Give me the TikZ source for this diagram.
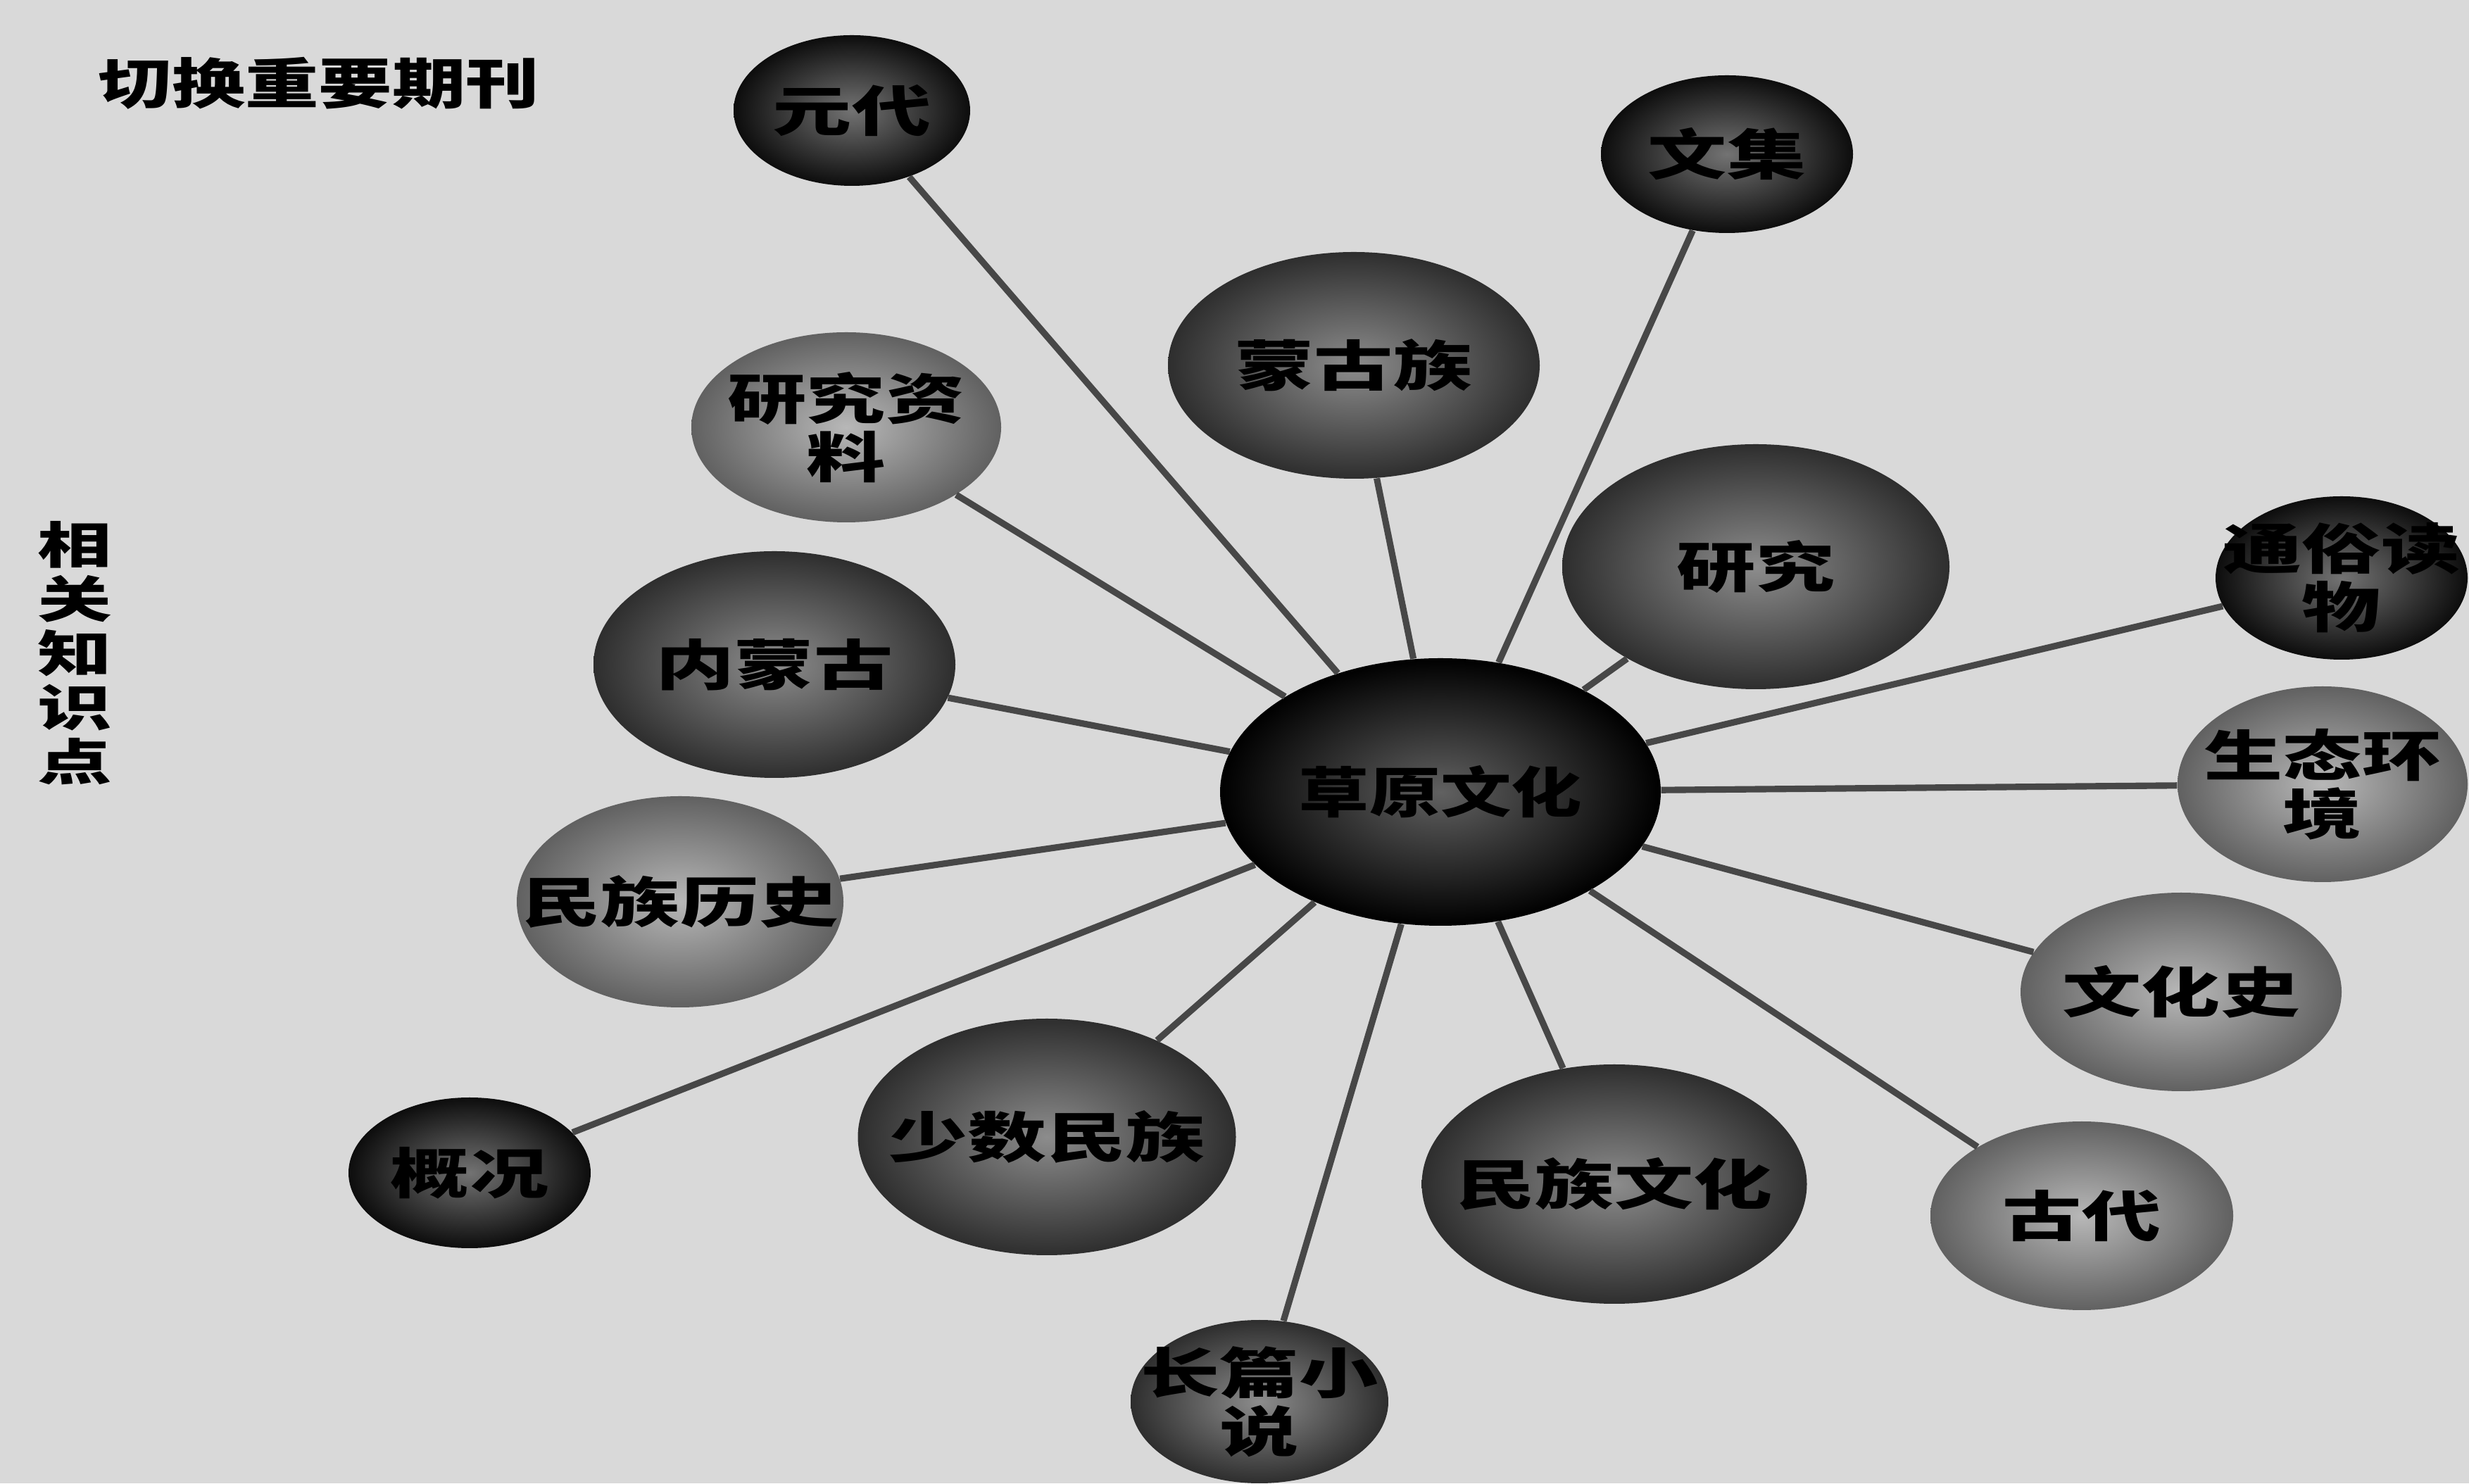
\documentclass[tikz,border=0pt]{standalone}
\usepackage{fontspec}
\setmainfont{Noto Sans CJK SC}
\usepackage{tikz}
\usetikzlibrary{shapes.geometric}

% glyphs in the figure are stretched sideways
\newcommand{\wide}[1]{\scalebox{1.45}[1]{#1}}

\begin{document}
\begin{tikzpicture}[
    ball/.style={ellipse, inner xsep=-0.8cm, inner ysep=0pt, align=center, text=black,
                 font=\bfseries\fontsize{22}{23.6}\selectfont},
    darkball/.style={ball, shade, inner color=black!55, outer color=black!95},
    midball/.style={ball, shade, inner color=black!45, outer color=black!82},
    lightball/.style={ball, shade, inner color=black!28, outer color=black!62},
    spoke/.style={line width=2.6pt, draw=black!72}
]
    \useasboundingbox (0,0) rectangle (35.07,21.07);
    \fill[black!15] (0,0) rectangle (35.07,21.07);

    % side labels
    \node[font=\bfseries\fontsize{22}{22}\selectfont] (kanlabel) at (4.53,19.89) {\scalebox{1.35}[1]{切换重要期刊}};
    \node[align=center, font=\bfseries\fontsize{20}{21.9}\selectfont] (zhishi) at (1.06,11.79)
        {\scalebox{1.5}[1]{相}\\\scalebox{1.5}[1]{关}\\\scalebox{1.5}[1]{知}\\\scalebox{1.5}[1]{识}\\\scalebox{1.5}[1]{点}};

    % hub
    \node[ball, shade, inner color=black!62, outer color=black, minimum width=6.26cm, minimum height=3.80cm]
        (caoyuan) at (20.46,9.82) {\scalebox{1.3}[1]{草原文化}};

    % outer nodes
    \node[darkball, minimum width=3.36cm, minimum height=2.14cm] (yuandai) at (12.10,19.50) {\wide{元代}};
    \node[darkball, minimum width=3.58cm, minimum height=2.24cm] (wenji) at (24.53,18.88) {\wide{文集}};
    \node[midball, minimum width=5.28cm, minimum height=3.22cm] (menggu) at (19.23,15.88) {\wide{蒙古族}};
    \node[lightball, minimum width=4.40cm, minimum height=2.70cm] (ziliao) at (12.02,15.00) {\wide{研究资}\\\wide{料}};
    \node[midball, minimum width=5.50cm, minimum height=3.48cm] (yanjiu) at (24.94,13.02) {\wide{研究}};
    \node[darkball, minimum width=3.58cm, minimum height=2.32cm] (tongsu) at (33.26,12.86) {\wide{通俗读}\\\wide{物}};
    \node[midball, minimum width=5.14cm, minimum height=3.22cm] (neimeng) at (11.00,11.63) {\wide{内蒙古}};
    \node[lightball, minimum width=4.12cm, minimum height=2.78cm] (shengtai) at (32.99,9.93) {\wide{生态环}\\\wide{境}};
    \node[lightball, minimum width=4.64cm, minimum height=3.00cm] (lishi) at (9.66,8.26) {\wide{民族历史}};
    \node[lightball, minimum width=4.56cm, minimum height=2.82cm] (wenhuashi) at (30.98,6.98) {\wide{文化史}};
    \node[darkball, minimum width=3.44cm, minimum height=2.14cm] (gaikuang) at (6.67,4.41) {\wide{概况}};
    \node[midball, minimum width=5.37cm, minimum height=3.36cm] (shaoshu) at (14.87,4.92) {\wide{少数民族}};
    \node[midball, minimum width=5.47cm, minimum height=3.40cm] (minzu) at (22.93,4.25) {\wide{民族文化}};
    \node[lightball, minimum width=4.30cm, minimum height=2.68cm] (gudai) at (29.57,3.80) {\wide{古代}};
    \node[midball, minimum width=3.66cm, minimum height=2.32cm] (xiaoshuo) at (17.89,1.16) {\wide{长篇小}\\\wide{说}};

    % spokes
    \foreach \n in {yuandai,wenji,menggu,ziliao,yanjiu,tongsu,neimeng,shengtai,
                    lishi,wenhuashi,gaikuang,shaoshu,minzu,gudai,xiaoshuo}
        \draw[spoke] (caoyuan) -- (\n);
\end{tikzpicture}
\end{document}
